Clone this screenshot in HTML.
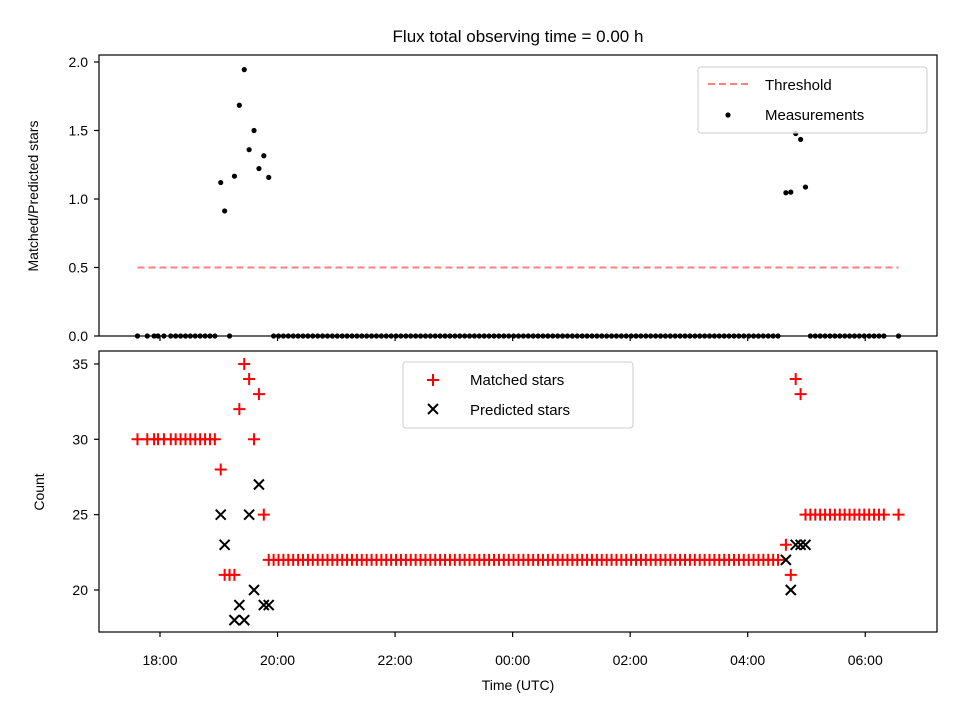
<!DOCTYPE html>
<html><head><meta charset="utf-8"><style>
body{margin:0;background:#fff;}
svg{display:block;font-family:"Liberation Sans","DejaVu Sans",sans-serif;}
</style></head><body>
<svg id="chart" width="960" height="720" viewBox="0 0 960 720">
<text x="518" y="42" font-size="17" text-anchor="middle">Flux total observing time = 0.00 h</text>
<g id="topAxes"></g><g id="botAxes"></g>
</svg>
<script>
// minutes since 17:00
const times = [37,47,54,58,64,71,76,81,86,91,96,101,106,111,116,
122,126,131,136,141,146,151,156,161,166,171,
176,181,186,191,196,201,206,211,216,221,226,231,236,241,246,251,256,261,266,271,276,281,286,291,296,301,306,311,316,321,326,331,336,341,346,351,356,361,366,371,376,381,386,391,396,401,406,411,416,421,426,431,436,441,446,451,456,461,466,471,476,481,486,491,496,501,506,511,516,521,526,531,536,541,546,551,556,561,566,571,576,581,586,591,596,601,606,611,616,621,626,631,636,641,646,651,656,661,666,671,676,681,686,691,
699,704,709,714,719,
724,729,734,739,744,749,754,759,764,769,774,779,784,789,794,799,814];
const matched = [30,30,30,30,30,30,30,30,30,30,30,30,30,30,30,
28,21,21,21,32,35,34,30,33,25,22,
22,22,22,22,22,22,22,22,22,22,22,22,22,22,22,22,22,22,22,22,22,22,22,22,22,22,
22,22,22,22,22,22,22,22,22,22,22,22,22,22,22,22,22,22,22,22,22,22,22,22,22,22,
22,22,22,22,22,22,22,22,22,22,22,22,22,22,22,22,22,22,22,22,22,22,22,22,22,22,
22,22,22,22,22,22,22,22,22,22,22,22,22,22,22,22,22,22,22,22,22,22,22,22,22,22,
23,21,34,33,25,
25,25,25,25,25,25,25,25,25,25,25,25,25,25,25,25,25];
const predicted = [null,null,null,null,null,null,null,null,null,null,null,null,null,null,null,
25,23,null,18,19,18,25,20,27,19,19];
const predictedRight = {699:22,704:20,709:23,714:23,719:23};
const topTicks = [0,0.5,1.0,1.5,2.0];
const botTicks = [20,25,30,35];
const xTickMin = [60,180,300,420,540,660,780];
const xTickLabels = ["18:00","20:00","22:00","00:00","02:00","04:00","06:00"];
const threshold = 0.5;

const NS="http://www.w3.org/2000/svg";
const X=t=>160+(t-60)*0.9795;
const YT=v=>336-v*137;
const YB=v=>590-(v-20)*15.07;
function mk(tag,attrs,parent){const e=document.createElementNS(NS,tag);for(const k in attrs)e.setAttribute(k,attrs[k]);parent.appendChild(e);return e;}
const gTop=document.getElementById('topAxes'),gBot=document.getElementById('botAxes');
function pred(i){const t=times[i];if(i<predicted.length)return predicted[i];return predictedRight[t]===undefined?null:predictedRight[t];}

function frame(g,y0,y1,name,ticks,Y,fmt,labels){
  const r=mk('rect',{x:99,y:y0,width:838,height:y1-y0,fill:'none',stroke:'#000','stroke-width':1.2},g);
  
  
  ticks.forEach(v=>{
    const y=Y(v);
    const l=mk('line',{x1:94,x2:99,y1:y,y2:y,stroke:'#000','stroke-width':1.2},g);
    
    
    const tx=mk('text',{x:88,y:y+5,'font-size':14,'text-anchor':'end'},g);
    tx.textContent=fmt(v);
    
    
  });
  xTickMin.forEach((m,i)=>{
    const x=X(m);
    const l=mk('line',{x1:x,x2:x,y1:y1,y2:y1+5,stroke:'#000','stroke-width':1.2},g);
    
    
    if(labels){
      const tx=mk('text',{x:x,y:y1+33,'font-size':14,'text-anchor':'middle'},g);
      tx.textContent=xTickLabels[i];
      
      
    }
  });
}
frame(gTop,55,336,'top-axes',topTicks,YT,v=>v.toFixed(1),false);
frame(gBot,351,632,'bottom-axes',botTicks,YB,v=>String(v),true);

const th=mk('line',{x1:X(times[0]),x2:X(times[times.length-1]),y1:YT(threshold),y2:YT(threshold),stroke:'#ff8080','stroke-width':2,'stroke-dasharray':'7,4'},gTop);



times.forEach((t,i)=>{
  const p=pred(i);
  const ratio=p?matched[i]/p:0;
  const d=mk('circle',{cx:X(t),cy:YT(ratio),r:2.6,fill:'#000'},gTop);
  
  
  const x=X(t),y=YB(matched[i]);
  const m=mk('path',{d:`M${x-6},${y}H${x+6}M${x},${y-6}V${y+6}`,stroke:'#f00','stroke-width':2},gBot);
  
  
});
times.forEach((t,i)=>{
  const p=pred(i);if(p===null)return;
  const x=X(t),y=YB(p);
  const m=mk('path',{d:`M${x-5},${y-5}L${x+5},${y+5}M${x-5},${y+5}L${x+5},${y-5}`,stroke:'#000','stroke-width':2},gBot);
  
  
});
</script>
<div style="position:absolute;left:0;top:0;width:960px;height:720px;pointer-events:none">
<svg width="960" height="720" style="position:absolute;left:0;top:0">
<g font-family="Liberation Sans, DejaVu Sans, sans-serif" font-size="14">
<text transform="translate(38,196) rotate(-90)" text-anchor="middle">Matched/Predicted stars</text>
<text transform="translate(44,492) rotate(-90)" text-anchor="middle">Count</text>
<text x="518" y="690" text-anchor="middle">Time (UTC)</text>
<g>
<rect x="698" y="67" width="229" height="66" rx="3" fill="#fff" fill-opacity="0.8" stroke="#ccc"/>
<line x1="708" x2="748" y1="84" y2="84" stroke="#ff8080" stroke-width="2" stroke-dasharray="7,4"/>
<text x="765" y="90" font-size="15">Threshold</text>
<circle cx="728" cy="115" r="2.6" fill="#000"/>
<text x="765" y="120" font-size="15">Measurements</text>
</g>
<g>
<rect x="403" y="362" width="230" height="66" rx="3" fill="#fff" fill-opacity="0.8" stroke="#ccc"/>
<path d="M427,380H439M433,374V386" stroke="#f00" stroke-width="2"/>
<text x="470" y="385" font-size="15">Matched stars</text>
<path d="M428,404L438,414M428,414L438,404" stroke="#000" stroke-width="2"/>
<text x="470" y="415" font-size="15">Predicted stars</text>
</g>
</g>
</svg>
</div>
</body></html>
